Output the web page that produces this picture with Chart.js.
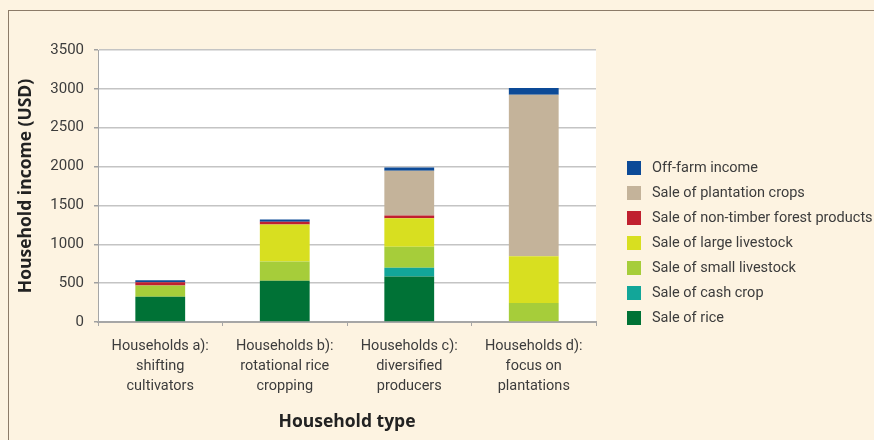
<!DOCTYPE html>
<html lang="en">
<head>
<meta charset="UTF-8">
<title>Household income by household type</title>
<script src="https://cdn.jsdelivr.net/npm/chart.js"></script>
<style>
    html, body { margin: 0; padding: 0; background: #fdf3e1; }
    .frame { position: relative; width: 874px; height: 440px; overflow: hidden; }
    .frame:before { content: ''; position: absolute; left: 8px; top: 10px; width: 1000px; height: 1000px;
        border-top: 1px solid #8c7b68; border-left: 1px solid #8c7b68; }
    canvas { position: absolute; left: 0; top: 0; }
    #legend { position: absolute; left: 627px; top: 155px; color: #3c3c3c; font-size: 14.5px;
        font-family: Roboto, "Liberation Sans", sans-serif; }
    #legend .item { height: 25px; display: flex; align-items: center; white-space: nowrap; }
    #legend .box { width: 14px; height: 14px; margin-right: 11px; flex: none; }
</style>
</head>
<body>
<div class="frame">
    <canvas id="incomeChart" width="874" height="440"></canvas>
    <div id="legend"></div>
</div>

<script>
    // household types (x axis), one entry per bar, split into lines
    const householdTypes = [
        ['Households a):', 'shifting', 'cultivators'],
        ['Households b):', 'rotational rice', 'cropping'],
        ['Households c):', 'diversified', 'producers'],
        ['Households d):', 'focus on', 'plantations']
    ];

    // income per source, USD
    const saleOfRice            = [325, 532, 587, 0];
    const saleOfCashCrop        = [0, 0, 110, 0];
    const saleOfSmallLivestock  = [145, 248, 270, 245];
    const saleOfLargeLivestock  = [0, 475, 367, 600];
    const saleOfNtfp            = [40, 35, 35, 0];
    const saleOfPlantationCrops = [0, 0, 578, 2080];
    const offFarmIncome         = [26, 29, 42, 85];

    const yMin = 0, yMax = 3500, yStep = 500;

    const plain = 'Roboto, "Liberation Sans", sans-serif';
    const bold = '"Open Sans", "Liberation Sans", sans-serif';

    const datasets = [
        { label: 'Sale of rice', data: saleOfRice, backgroundColor: '#007236' },
        { label: 'Sale of cash crop', data: saleOfCashCrop, backgroundColor: '#12a699' },
        { label: 'Sale of small livestock', data: saleOfSmallLivestock, backgroundColor: '#a6cd3a' },
        { label: 'Sale of large livestock', data: saleOfLargeLivestock, backgroundColor: '#d8df20' },
        { label: 'Sale of non-timber forest products', data: saleOfNtfp, backgroundColor: '#c0202f' },
        { label: 'Sale of plantation crops', data: saleOfPlantationCrops, backgroundColor: '#c4b39a' },
        { label: 'Off-farm income', data: offFarmIncome, backgroundColor: '#0c4a97' }
    ];

    // white plot area on the cream page
    const plotBackground = {
        id: 'plotBackground',
        beforeDraw(chart) {
            const { ctx, chartArea: a } = chart;
            ctx.save();
            ctx.fillStyle = '#ffffff';
            ctx.fillRect(a.left, a.top, a.right - a.left, a.bottom - a.top);
            ctx.restore();
        }
    };

    new Chart(document.getElementById('incomeChart'), {
        type: 'bar',
        data: {
            labels: householdTypes,
            datasets: datasets.map(d => ({ ...d, borderWidth: 0, categoryPercentage: 1, barPercentage: 0.4 }))
        },
        options: {
            responsive: false,
            animation: false,
            layout: { padding: { left: 0, right: 278, top: 50, bottom: 0 } },
            plugins: {
                legend: { display: false },
                tooltip: { enabled: false }
            },
            scales: {
                x: {
                    stacked: true,
                    afterFit: s => { s.height = 118; },
                    grid: { drawOnChartArea: false, tickLength: 4, color: '#a6a6a6', offset: true },
                    border: { color: '#a6a6a6', width: 2 },
                    ticks: { color: '#3c3c3c', padding: 11, font: { family: plain, size: 14.5, lineHeight: 1.35 } },
                    title: {
                        display: true, text: 'Household type', color: '#222222',
                        font: { family: bold, size: 17.5, weight: 'bold', lineHeight: 1.2 },
                        padding: { top: 0, bottom: 7 }
                    }
                },
                y: {
                    stacked: true,
                    min: yMin, max: yMax,
                    afterFit: s => { s.width = 98; },
                    grid: { color: '#c4c4c4', lineWidth: 1.5, tickColor: '#a0a0a0', tickLength: 4 },
                    border: { color: '#a6a6a6', width: 1 },
                    ticks: {
                        stepSize: yStep, color: '#3c3c3c', padding: 10,
                        format: { useGrouping: false },
                        font: { family: plain, size: 15 }
                    },
                    title: {
                        display: true, text: 'Household income (USD)', color: '#222222',
                        font: { family: bold, size: 17.5, weight: 'bold', lineHeight: 1.2 },
                        padding: { top: 16, bottom: 0 }
                    }
                }
            }
        },
        plugins: [plotBackground]
    });

    // legend, top entry is the top of the stack
    const legend = document.getElementById('legend');
    datasets.slice().reverse().forEach(d => {
        const item = document.createElement('div');
        item.className = 'item';
        item.innerHTML = `<span class="box" style="background:${d.backgroundColor}"></span><span>${d.label}</span>`;
        legend.appendChild(item);
    });
</script>
</body>
</html>
